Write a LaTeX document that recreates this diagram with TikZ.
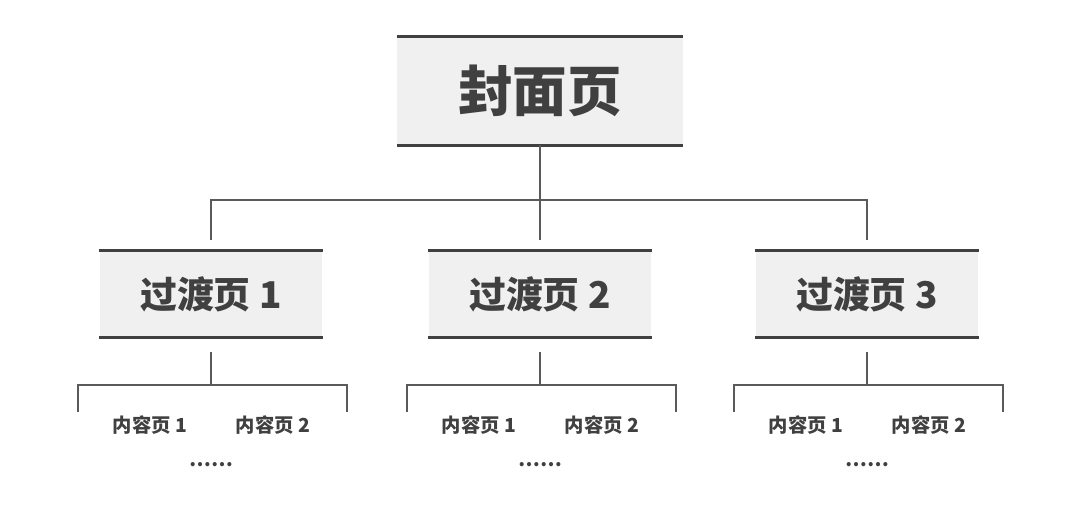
\documentclass[tikz,border=0pt]{standalone}
\usepackage{fontspec}
\setmainfont{Noto Sans CJK SC}
\usepackage{tikz}
\usetikzlibrary{positioning,calc}
\definecolor{boxgray}{RGB}{240,240,240}
\definecolor{textgray}{RGB}{64,64,64}
\definecolor{linegray}{RGB}{90,90,90}

\begin{document}
\begin{tikzpicture}[x=0.02cm,y=-0.02cm,
    cover/.style={fill=boxgray,text=textgray,minimum width=5.72cm,minimum height=2.16cm,inner sep=0pt,font=\fontsize{31}{31}\selectfont\bfseries},
    trans/.style={fill=boxgray,text=textgray,minimum width=4.46cm,minimum height=1.72cm,inner sep=0pt,font=\fontsize{21}{21}\selectfont\bfseries},
    leaf/.style={text=textgray,inner sep=0pt,font=\fontsize{11}{11}\selectfont\bfseries},
    link/.style={draw=linegray,line width=0.9pt},
    rule/.style={draw=textgray,line width=2pt}]
    \useasboundingbox (0,0) rectangle (1080,519);

    \node[cover] (cover) at (540,91) {封面页};
    \draw[rule] (cover.north west) -- (cover.north east);
    \draw[rule] (cover.south west) -- (cover.south east);
    \draw[link] (cover.south) -- (540,200) coordinate (hub);

    \foreach \i/\x in {1/211,2/540,3/867}{
        \node[trans] (trans\i) at (\x,294) {过渡页 \i};
        \draw[rule] (trans\i.north west) -- (trans\i.north east);
        \draw[rule] (trans\i.south west) -- (trans\i.south east);
        \coordinate (top\i) at (\x,240);
        \draw[link] (hub) -| (top\i);
        % content pages under each transition
        \coordinate (sub\i) at (\x,385);
        \draw[link] ($(trans\i.south)+(0,15)$) -- (sub\i);
        \draw[link] ($(sub\i)+(-133,27)$) |- ($(sub\i)+(136,0)$) -- ++(0,27);
        \node[leaf] (pa\i) at ($(sub\i)+(-61,40)$) {内容页 1};
        \node[leaf] (pb\i) at ($(sub\i)+(62,40)$) {内容页 2};
        \node[leaf] (more\i) at ($(sub\i)+(0,80)$) {……};
    }
\end{tikzpicture}
\end{document}
